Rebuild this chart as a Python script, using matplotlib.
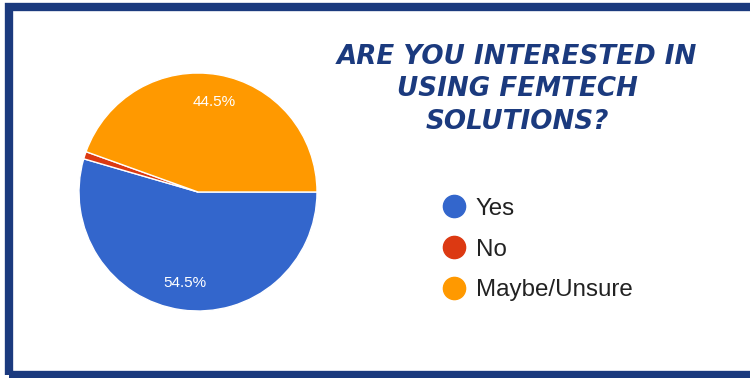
import matplotlib
matplotlib.use('Agg')
import matplotlib.pyplot as plt
from matplotlib.lines import Line2D
from matplotlib.patches import Rectangle

labels = ['Yes', 'No', 'Maybe/Unsure']
shares = [54.5, 1.0, 44.5]
colors = ['#3366cc', '#dc3912', '#ff9900']
title_lines = ['ARE YOU INTERESTED IN', 'USING FEMTECH', 'SOLUTIONS?']

W, H = 750, 378
fig = plt.figure(figsize=(W / 100, H / 100), dpi=100)
fig.patch.set_facecolor('white')

# navy frame, open on the right side
navy = '#1b3a7e'
fig.patches.append(Rectangle((8.5 / W, (H - 374.5) / H), 1.2, (374.5 - 7) / H,
                             transform=fig.transFigure, fill=False, edgecolor=navy,
                             linewidth=6, figure=fig))

# pie, centre about (198, 192) px, radius ~119 px
cx, cy, r = 198, 192, 119
ax = fig.add_axes([(cx - r) / W, (H - cy - r) / H, 2 * r / W, 2 * r / H])
wedges, texts, autotexts = ax.pie(
    shares, colors=colors, startangle=0, counterclock=False,
    autopct=lambda p: f'{p:.1f}%' if p > 5 else '', pctdistance=0.77,
    wedgeprops=dict(edgecolor='white', linewidth=1),
    textprops=dict(color='white', fontsize=11, family='Liberation Sans'))
ax.set_xlim(-1, 1)
ax.set_ylim(-1, 1)
ax.set_aspect('equal')

# title
for i, line in enumerate(title_lines):
    fig.text(517 / W, 1 - (57 + 32.5 * i) / H, line, ha='center', va='center',
             fontsize=18.8, fontweight='bold', style='italic', family='DejaVu Sans',
             color=navy)

handles = [Line2D([], [], marker='o', linestyle='none', markersize=16,
                  markerfacecolor=c, markeredgecolor=c) for c in colors]
fig.legend(handles, labels, loc='upper left', bbox_to_anchor=(430 / W, 1 - 188 / H),
           frameon=False, prop=dict(family='Liberation Sans', size=17.4),
           labelcolor='#222222', handletextpad=0.3, labelspacing=0.78,
           handlelength=1.2, borderaxespad=0)

fig.savefig('out.png', dpi=100, facecolor='white')
